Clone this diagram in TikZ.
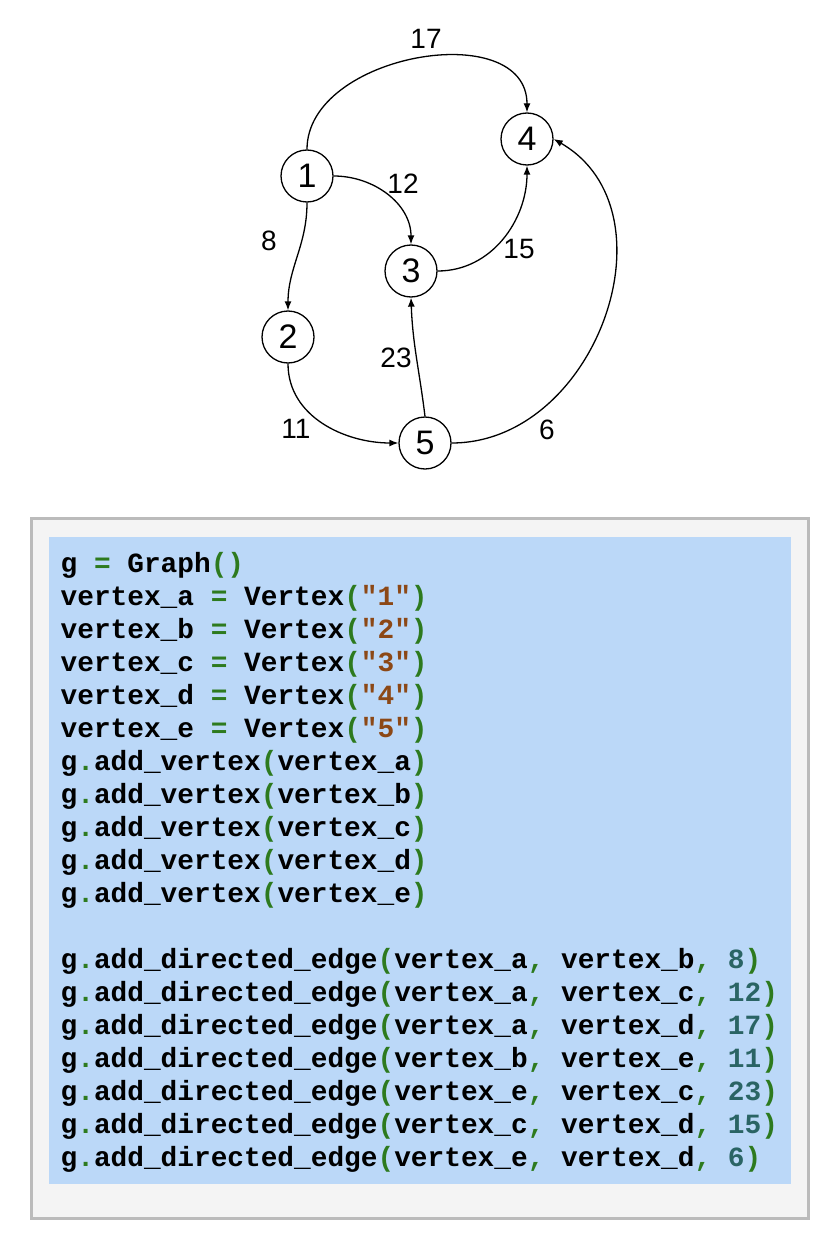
\documentclass[tikz,border=0pt]{standalone}
\usepackage{fontspec}
\setmainfont{Liberation Sans}
\setmonofont{Liberation Mono}
\usetikzlibrary{arrows.meta}
\definecolor{codebg}{RGB}{187,216,248}
\definecolor{boxbg}{RGB}{244,244,244}
\definecolor{boxline}{RGB}{187,187,187}
\definecolor{opgreen}{RGB}{45,122,30}
\definecolor{strbrown}{RGB}{140,72,22}
\definecolor{numteal}{RGB}{42,100,100}
\newcommand{\op}[1]{\textcolor{opgreen}{#1}}
\newcommand{\str}[1]{\textcolor{strbrown}{#1}}
\newcommand{\num}[1]{\textcolor{numteal}{#1}}
\begin{document}
\begin{tikzpicture}[x=1pt,y=1pt,>={Latex[length=9pt,width=7pt]},line width=1.3pt]
\tikzstyle{v}=[draw,circle,minimum size=52pt,inner sep=0pt,font=\fontsize{34}{34}\selectfont]
\tikzstyle{w}=[font=\fontsize{28}{28}\selectfont]
\tikzstyle{c}=[anchor=base west,inner sep=0pt,font=\ttfamily\bfseries\fontsize{27.8}{33}\selectfont]
\useasboundingbox (0,0) rectangle (838,-1252);
% graph
\node[v] (v1) at (307,-176) {1};
\node[v] (v2) at (288,-337) {2};
\node[v] (v3) at (411,-271) {3};
\node[v] (v4) at (527,-139) {4};
\node[v] (v5) at (425,-443) {5};
\draw[->] (v1.north) to[out=90,in=90,looseness=1.1] (v4.north);
\draw[->] (v1.east) to[out=0,in=90] (v3.north);
\draw[->] (v1.south) to[out=-90,in=90] (v2.north);
\draw[->] (v3.east) to[out=0,in=-90] (v4.south);
\draw[->] (v2.south) to[out=-90,in=180] (v5.west);
\draw[->] (v5.north) to[out=97,in=-88] (v3.south);
\draw[->] (v5.east) to[out=0,in=-30,looseness=1.15] (v4.east);
\node[w] (l17) at (426,-39) {17};
\node[w] (l12) at (403,-184) {12};
\node[w] (l8) at (269,-241) {8};
\node[w] (l15) at (519,-249) {15};
\node[w] (l23) at (396,-358) {23};
\node[w] (l11) at (296,-429) {11};
\node[w] (l6) at (547,-430) {6};
% code listing
\draw[boxline,fill=boxbg,line width=3pt] (31.5,-518.5) rectangle (808.5,-1218.5);
\fill[codebg] (49,-537) rectangle (791,-1184);
\foreach \i/\t in {0/{g \op{=} Graph\op{()}},
  1/{vertex\_a \op{=} Vertex\op{(}\str{"1"}\op{)}},
  2/{vertex\_b \op{=} Vertex\op{(}\str{"2"}\op{)}},
  3/{vertex\_c \op{=} Vertex\op{(}\str{"3"}\op{)}},
  4/{vertex\_d \op{=} Vertex\op{(}\str{"4"}\op{)}},
  5/{vertex\_e \op{=} Vertex\op{(}\str{"5"}\op{)}},
  6/{g\op{.}add\_vertex\op{(}vertex\_a\op{)}},
  7/{g\op{.}add\_vertex\op{(}vertex\_b\op{)}},
  8/{g\op{.}add\_vertex\op{(}vertex\_c\op{)}},
  9/{g\op{.}add\_vertex\op{(}vertex\_d\op{)}},
  10/{g\op{.}add\_vertex\op{(}vertex\_e\op{)}},
  12/{g\op{.}add\_directed\_edge\op{(}vertex\_a\op{,} vertex\_b\op{,} \num{8}\op{)}},
  13/{g\op{.}add\_directed\_edge\op{(}vertex\_a\op{,} vertex\_c\op{,} \num{12}\op{)}},
  14/{g\op{.}add\_directed\_edge\op{(}vertex\_a\op{,} vertex\_d\op{,} \num{17}\op{)}},
  15/{g\op{.}add\_directed\_edge\op{(}vertex\_b\op{,} vertex\_e\op{,} \num{11}\op{)}},
  16/{g\op{.}add\_directed\_edge\op{(}vertex\_e\op{,} vertex\_c\op{,} \num{23}\op{)}},
  17/{g\op{.}add\_directed\_edge\op{(}vertex\_c\op{,} vertex\_d\op{,} \num{15}\op{)}},
  18/{g\op{.}add\_directed\_edge\op{(}vertex\_e\op{,} vertex\_d\op{,} \num{6}\op{)}}}
  \node[c] (line\i) at (60,-572-\i*33) {\t};
\end{tikzpicture}
\end{document}
